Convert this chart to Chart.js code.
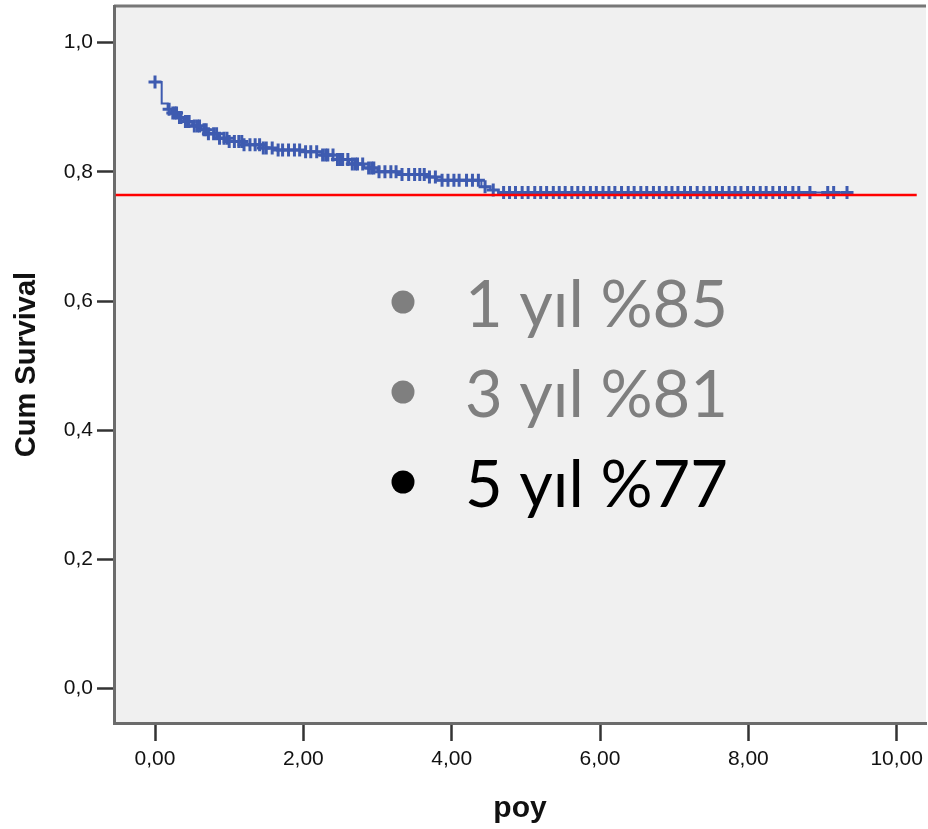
<!DOCTYPE html>
<html>
<head>
<meta charset="utf-8">
<script src="https://cdn.jsdelivr.net/npm/chart.js@4/dist/chart.umd.min.js"></script>
<style>
  html, body { margin: 0; padding: 0; background: #fff; }
  #wrap { width: 928px; height: 829px; }
</style>
</head>
<body>
<div id="wrap"><canvas id="chart" width="928" height="829"></canvas></div>
<script>
// Kaplan-Meier steps (poy in years, cum survival after the step)
const eventTimes = [0, 0.09, 0.17, 0.22, 0.30, 0.38, 0.50, 0.62, 0.72, 0.85, 1.00, 1.20, 1.42, 1.62, 2.00, 2.25, 2.45, 2.62, 2.82, 3.00, 3.30, 3.65, 3.80, 4.40, 4.52, 4.63, 9.33]
const eventSurv = [0.939, 0.906, 0.897, 0.891, 0.884, 0.878, 0.871, 0.865, 0.859, 0.852, 0.847, 0.842, 0.837, 0.834, 0.831, 0.826, 0.819, 0.812, 0.806, 0.800, 0.796, 0.792, 0.787, 0.777, 0.772, 0.768, 0.768]

// censored cases (the + marks)
const censorTimes = [0, 0.19, 0.24, 0.27, 0.29, 0.33, 0.35, 0.41, 0.44, 0.46, 0.53, 0.57, 0.60, 0.66, 0.69, 0.72, 0.79, 0.83, 0.87, 0.93, 0.97,
  1.00, 1.07, 1.13, 1.17, 1.20, 1.28, 1.35, 1.41, 1.46, 1.50, 1.58, 1.66, 1.72, 1.80, 1.88, 1.95,
  2.03, 2.10, 2.18, 2.26, 2.30, 2.33, 2.40, 2.46, 2.50, 2.53, 2.60, 2.66, 2.70, 2.73, 2.80, 2.88, 2.92, 2.95,
  3.02, 3.10, 3.18, 3.25, 3.33, 3.42, 3.50, 3.57, 3.63, 3.70, 3.78, 3.87, 3.95,
  4.03, 4.10, 4.20, 4.28, 4.36, 4.45, 4.56, 4.70, 4.78, 4.86, 4.95,
  5.03, 5.12, 5.20, 5.28, 5.37, 5.45, 5.53, 5.62, 5.70, 5.78, 5.87, 5.95,
  6.04, 6.12, 6.20, 6.29, 6.38, 6.46, 6.55, 6.63, 6.72, 6.80, 6.89, 6.97,
  7.05, 7.14, 7.22, 7.31, 7.40, 7.48, 7.57, 7.65, 7.74, 7.82, 7.90, 7.99,
  8.07, 8.16, 8.24, 8.33, 8.42, 8.50, 8.60, 8.68, 8.83, 9.07, 9.15, 9.33]

// red reference line at 5 year survival
const refLineX = [-0.53, 10.27]
const refLineY = 0.764

const yTicks = [0, 0.2, 0.4, 0.6, 0.8, 1.0]
const xTicks = [0, 2, 4, 6, 8, 10]

const notes = ['1 yıl %85', '3 yıl %81', '5 yıl %77']
const noteColors = ['#7f7f7f', '#7f7f7f', '#000000']

function survivalAt(t) {
  let s = eventSurv[0]
  for (let i = 0; i < eventTimes.length; i++) {
    if (eventTimes[i] <= t) s = eventSurv[i]
  }
  return s
}

const kmPoints = eventTimes.map((t, i) => ({ x: t, y: eventSurv[i] }))
const censorPoints = censorTimes.map(t => ({ x: t, y: survivalAt(t) }))
const refPoints = refLineX.map(x => ({ x: x, y: refLineY }))

const blue = '#3e5bb0'

const plotFrame = {
  id: 'plotFrame',
  beforeDraw(chart) {
    const { ctx, chartArea: a } = chart
    ctx.save()
    ctx.fillStyle = '#f0f0f0'
    ctx.fillRect(a.left, a.top, a.right - a.left, a.bottom - a.top)
    ctx.strokeStyle = '#777'
    ctx.lineWidth = 3
    ctx.beginPath()
    ctx.moveTo(a.left, a.top)
    ctx.lineTo(a.right, a.top)
    ctx.stroke()
    ctx.restore()
  },
  afterDraw(chart) {
    const ctx = chart.ctx
    ctx.save()
    ctx.font = '65px Lato'
    ctx.textBaseline = 'alphabetic'
    notes.forEach((txt, i) => {
      const base = 327 + i * 90
      ctx.fillStyle = noteColors[i]
      ctx.beginPath()
      ctx.arc(403, base - 25, 11.5, 0, Math.PI * 2)
      ctx.fill()
      ctx.fillText(txt, 465, base)
    })
    ctx.restore()
  }
}

const tickFont = { family: 'Liberation Sans, Arial, sans-serif', size: 21 }

new Chart(document.getElementById('chart'), {
  type: 'line',
  data: {
    datasets: [
      {
        data: refPoints,
        borderColor: '#ff0000',
        borderWidth: 2.5,
        pointRadius: 0
      },
      {
        data: censorPoints,
        showLine: false,
        pointStyle: 'cross',
        pointRadius: 6.5,
        borderColor: blue,
        pointBorderWidth: 3
      },
      {
        data: kmPoints,
        stepped: true,
        borderColor: blue,
        borderWidth: 2,
        pointRadius: 0
      }
    ]
  },
  options: {
    responsive: false,
    animation: false,
    layout: { autoPadding: false, padding: { top: 6, right: 2, left: 0, bottom: 0 } },
    plugins: {
      legend: { display: false },
      tooltip: { enabled: false }
    },
    scales: {
      x: {
        type: 'linear',
        min: -0.553,
        max: 10.395,
        afterBuildTicks: s => { s.ticks = xTicks.map(v => ({ value: v })) },
        afterFit: s => { s.height = 106; s.paddingLeft = 0; s.paddingRight = 0 },
        ticks: {
          font: tickFont,
          color: '#111',
          padding: 6,
          maxRotation: 0,
          callback: v => v.toFixed(2).replace('.', ',')
        },
        grid: { drawOnChartArea: false, drawTicks: true, tickLength: 18, tickColor: '#333', tickWidth: 2.5 },
        border: { display: true, color: '#6b6b6b', width: 3 },
        title: {
          display: true,
          text: 'poy',
          color: '#111',
          font: { family: 'Liberation Sans, Arial, sans-serif', size: 30, weight: 'bold', lineHeight: 1 },
          padding: { top: 0, bottom: 5 }
        }
      },
      y: {
        min: -0.0534,
        max: 1.0568,
        afterBuildTicks: s => { s.ticks = yTicks.map(v => ({ value: v })) },
        afterFit: s => { s.width = 114; s.paddingTop = 0; s.paddingBottom = 0 },
        ticks: {
          font: tickFont,
          color: '#111',
          padding: 4,
          callback: v => v.toFixed(1).replace('.', ',')
        },
        grid: { drawOnChartArea: false, drawTicks: true, tickLength: 17, tickColor: '#333', tickWidth: 2.5 },
        border: { display: true, color: '#6b6b6b', width: 3 },
        title: {
          display: true,
          text: 'Cum Survival',
          color: '#111',
          font: { family: 'Liberation Sans, Arial, sans-serif', size: 29, weight: 'bold', lineHeight: 1 },
          padding: { top: 12, bottom: 0 }
        }
      }
    }
  },
  plugins: [plotFrame]
})
</script>
</body>
</html>
